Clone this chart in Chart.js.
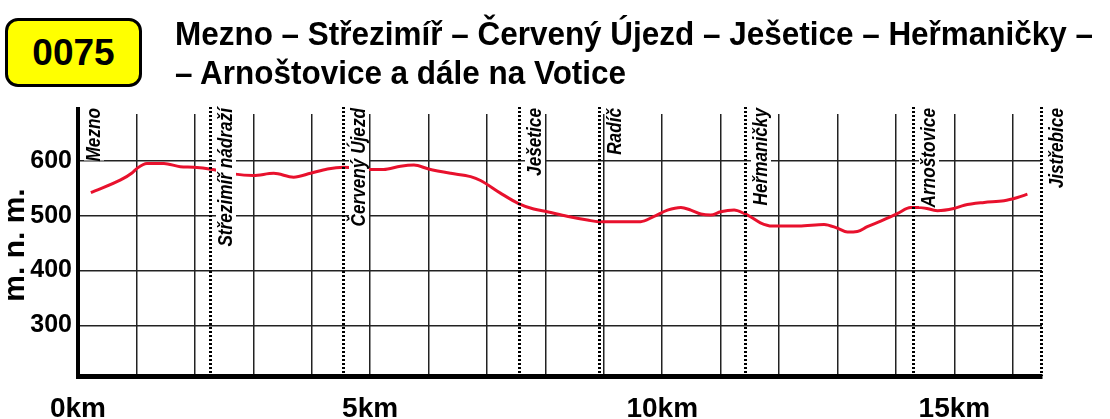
<!DOCTYPE html>
<html>
<head>
<meta charset="utf-8">
<title>0075 výškový profil</title>
<script src="https://cdn.jsdelivr.net/npm/chart.js@4"></script>
<style>
  body { margin: 0; background: #fff; }
  #wrap { position: relative; width: 1110px; height: 419px; overflow: hidden; }
  #profile { position: absolute; left: 0; top: 0; }
  #badge {
    position: absolute; left: 5px; top: 18px; width: 137px; height: 69px;
    box-sizing: border-box; border: 3px solid #000; border-radius: 13px;
    background: #ffff00; display: flex; align-items: center; justify-content: center;
    font: bold 37px "Liberation Sans", Arial, sans-serif; color: #000;
  }
  .tl {
    position: absolute; left: 175px; white-space: nowrap; color: #000;
    font: bold 33px "Liberation Sans", Arial, sans-serif; line-height: 33px;
    transform-origin: 0 0;
  }
</style>
</head>
<body>
<div id="wrap">
  <canvas id="profile" width="1110" height="419"></canvas>
  <div id="badge">0075</div>
  <div class="tl" id="t1" style="top:17px">Mezno – Střezimíř – Červený Újezd – Ješetice – Heřmaničky –</div>
  <div class="tl" id="t2" style="top:56px">– Arnoštovice a dále na Votice</div>
</div>
<script>
// profile (km, m n. m.)
const distKm = [0.22, 0.73, 0.93, 1.01, 1.18, 1.47, 1.75, 1.98, 2.30, 2.66, 3.0, 3.35, 3.69, 3.98, 4.27, 4.55,
                4.98, 5.23, 5.52, 5.75, 6.0, 6.38, 6.72, 6.89, 7.23, 7.54, 7.80, 8.03, 8.37, 8.72, 8.91,
                9.63, 9.85, 10.09, 10.32, 10.49, 10.66, 10.83, 11.0, 11.23, 11.40, 11.51, 11.68, 11.88,
                12.34, 12.77, 13.0, 13.17, 13.34, 13.51, 13.74, 14.03, 14.25, 14.43, 14.71, 14.99, 15.17,
                15.51, 15.85, 16.08, 16.25];
const elevation = [542, 565, 578, 586, 595, 595, 589, 588, 584, 576, 573, 577, 570, 577, 585, 588,
                   584, 584, 590, 592, 585, 577, 571, 564, 541, 522, 512, 507, 499, 492, 489,
                   489, 498, 510, 515, 510, 503, 501, 507, 510, 504, 498, 487, 481,
                   481, 484, 477, 470, 471, 480, 490, 504, 515, 515, 509, 513, 519,
                   524, 527, 533, 539];

// stops along the route
const stationNames = ['Mezno', 'Střezimíř nádraží', 'Červený Újezd', 'Ješetice', 'Radíč', 'Heřmaničky', 'Arnoštovice', 'Jistřebice'];
const stationKm = [0, 2.26, 4.54, 7.54, 8.91, 11.41, 14.29, 16.48];

// axes
const yTicks = [300, 400, 500, 600];
const kmGrid = [0, 1, 2, 3, 4, 5, 6, 7, 8, 9, 10, 11, 12, 13, 14, 15, 16];
const kmLabelAt = [0, 5, 10, 15];
const kmLabels = ['0km', '5km', '10km', '15km'];

const FONT = '"Liberation Sans", Arial, sans-serif';

// squeeze the heading like the condensed original
const t1 = document.getElementById('t1');
const t2 = document.getElementById('t2');
const sx = 918 / t1.getBoundingClientRect().width;
[t1, t2].forEach(el => el.style.transform = 'scaleX(' + sx + ')');

const stationPlugin = {
    id: 'stations',
    afterDatasetsDraw(chart) {
        const {ctx, chartArea, scales} = chart;
        const top = chartArea.top - 7;
        ctx.save();
        // axis sticks out a little above the grid
        ctx.fillStyle = '#000';
        ctx.fillRect(chartArea.left - 2, top, 4, 8);
        ctx.font = 'italic bold 20px ' + FONT;
        stationKm.forEach((km, i) => {
            const px = Math.round(scales.x.getPixelForValue(km));
            const name = stationNames[i];
            const w = ctx.measureText(name).width * 0.86;
            // white box behind the name
            ctx.fillStyle = '#fff';
            ctx.fillRect(px + 6, top, 20, w);
            // dotted stop line
            if (km > 0) {
                ctx.strokeStyle = '#000';
                ctx.lineWidth = 3;
                ctx.setLineDash([2, 2]);
                ctx.beginPath();
                ctx.moveTo(px + 0.5, top);
                ctx.lineTo(px + 0.5, chartArea.bottom);
                ctx.stroke();
                ctx.setLineDash([]);
            }
            ctx.save();
            ctx.translate(px + 22, top + 1);
            ctx.rotate(-Math.PI / 2);
            ctx.fillStyle = '#000';
            ctx.textAlign = 'right';
            ctx.textBaseline = 'alphabetic';
            ctx.fillText(name, 0, 0, w);
            ctx.restore();
        });
        ctx.restore();
    }
};

const points = distKm.map((km, i) => ({x: km, y: elevation[i]}));

new Chart(document.getElementById('profile'), {
    type: 'line',
    data: {
        datasets: [{
            data: points,
            borderColor: '#e8112d',
            borderWidth: 3,
            pointRadius: 0,
            cubicInterpolationMode: 'monotone',
            fill: false
        }]
    },
    options: {
        responsive: false,
        animation: false,
        events: [],
        layout: { padding: { top: 114, right: 68, bottom: 0, left: 0 } },
        plugins: { legend: { display: false }, tooltip: { enabled: false } },
        scales: {
            x: {
                type: 'linear',
                min: 0,
                max: 16.5,
                afterBuildTicks: axis => { axis.ticks = kmGrid.map(v => ({value: v})); },
                afterFit: axis => { axis.height = 43; },
                grid: { color: '#222', lineWidth: 1.5, drawTicks: false },
                border: { display: true, color: '#000', width: 5 },
                ticks: {
                    autoSkip: false,
                    maxRotation: 0,
                    padding: 16,
                    color: '#000',
                    font: { family: FONT, size: 28, weight: 'bold' },
                    callback: v => {
                        const idx = kmLabelAt.indexOf(v);
                        return idx >= 0 ? kmLabels[idx] : '';
                    }
                }
            },
            y: {
                min: 208,
                max: 685,
                afterBuildTicks: axis => { axis.ticks = yTicks.map(v => ({value: v})); },
                afterFit: axis => { axis.width = 78; },
                grid: { color: '#222', lineWidth: 1.5, drawTicks: false },
                border: { display: true, color: '#000', width: 4 },
                ticks: {
                    padding: 6,
                    color: '#000',
                    font: { family: FONT, size: 25, weight: 'bold' }
                },
                title: {
                    display: true,
                    text: 'm. n. m.',
                    color: '#000',
                    font: { family: FONT, size: 30, weight: 'bold', lineHeight: 1 },
                    padding: { top: 1, bottom: 0 }
                }
            }
        }
    },
    plugins: [stationPlugin]
});
</script>
</body>
</html>
